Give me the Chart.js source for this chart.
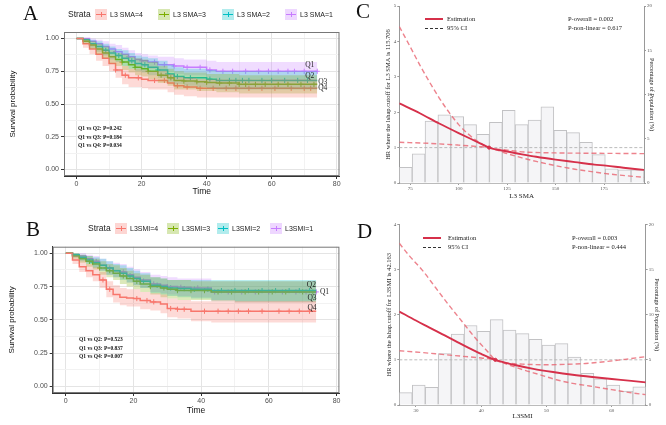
<!DOCTYPE html>
<html>
<head>
<meta charset="utf-8">
<script src="https://cdn.jsdelivr.net/npm/chart.js@4.4.0/dist/chart.umd.min.js"></script>
<style>
  body { margin: 0; width: 666px; height: 425px; position: relative; overflow: hidden; background: #fff;
         font-family: "Liberation Sans", Arial, sans-serif; }
  canvas { position: absolute; }
  .t { position: absolute; white-space: nowrap; line-height: 1; }
  .serif { font-family: "Liberation Serif", "Times New Roman", serif; }
  .letter { font-size: 21px; color: #111; }
  .sw { position: absolute; width: 12px; height: 11px; }
  .sw i { position: absolute; left: 1px; top: 5px; width: 10px; height: 1px; }
  .sw b { position: absolute; left: 5.5px; top: 3px; width: 1px; height: 5px; }
</style>
</head>
<body>
<canvas id="chartA" width="345" height="205" style="left:0;top:0"></canvas>
<canvas id="chartB" width="345" height="215" style="left:0;top:210px"></canvas>
<canvas id="chartC" width="321" height="210" style="left:345px;top:0"></canvas>
<canvas id="chartD" width="321" height="215" style="left:345px;top:210px"></canvas>

<div class="t serif letter" style="left:23px;top:3px">A</div>
<div class="t serif letter" style="left:26px;top:219px">B</div>
<div class="t serif letter" style="left:356px;top:1px">C</div>
<div class="t serif letter" style="left:357px;top:221px">D</div>

<script>
// ---- KM data ----
const kmTime = [0, 2, 4, 6, 8, 10, 12, 14, 16, 18, 20, 22, 25, 28, 30, 33, 37, 40, 43, 50, 60, 74];
const colors = ['#F8766D', '#7CAE00', '#00BFC4', '#C77CFF'];

// panel A, L3 SMA
const strataA = ['L3 SMA=4', 'L3 SMA=3', 'L3 SMA=2', 'L3 SMA=1'];
const survA4 = [1.00,0.96,0.92,0.88,0.85,0.81,0.76,0.72,0.70,0.70,0.69,0.68,0.68,0.66,0.64,0.63,0.62,0.62,0.62,0.62,0.62,0.62];
const lowA4  = [1.00,0.93,0.88,0.83,0.79,0.75,0.70,0.65,0.63,0.63,0.62,0.61,0.61,0.59,0.57,0.56,0.55,0.55,0.55,0.55,0.55,0.55];
const upA4   = [1.00,0.99,0.96,0.93,0.91,0.87,0.83,0.79,0.77,0.77,0.76,0.75,0.75,0.73,0.71,0.70,0.69,0.69,0.69,0.69,0.69,0.69];
const survA3 = [1.00,0.98,0.95,0.92,0.89,0.86,0.84,0.82,0.80,0.78,0.77,0.75,0.72,0.70,0.68,0.675,0.67,0.665,0.66,0.65,0.65,0.65];
const lowA3  = [1.00,0.96,0.92,0.88,0.85,0.81,0.79,0.76,0.74,0.72,0.71,0.69,0.66,0.64,0.61,0.61,0.60,0.60,0.59,0.58,0.58,0.58];
const upA3   = [1.00,1.00,0.98,0.96,0.94,0.91,0.89,0.88,0.86,0.85,0.84,0.82,0.79,0.77,0.75,0.74,0.74,0.73,0.73,0.72,0.72,0.72];
const survA2 = [1.00,0.99,0.96,0.94,0.91,0.89,0.87,0.85,0.83,0.81,0.80,0.78,0.76,0.73,0.71,0.70,0.70,0.69,0.68,0.68,0.68,0.68];
const lowA2  = [1.00,0.97,0.93,0.90,0.87,0.84,0.82,0.79,0.77,0.75,0.74,0.72,0.70,0.67,0.65,0.64,0.63,0.62,0.61,0.61,0.61,0.61];
const upA2   = [1.00,1.00,0.99,0.98,0.96,0.94,0.92,0.91,0.89,0.87,0.86,0.85,0.83,0.80,0.78,0.77,0.77,0.76,0.75,0.75,0.75,0.75];
const survA1 = [1.00,1.00,0.98,0.96,0.94,0.92,0.90,0.88,0.86,0.84,0.83,0.82,0.80,0.80,0.79,0.78,0.78,0.76,0.75,0.75,0.75,0.75];
const lowA1  = [1.00,0.99,0.96,0.93,0.91,0.88,0.86,0.84,0.81,0.79,0.78,0.77,0.75,0.75,0.73,0.72,0.72,0.70,0.69,0.69,0.68,0.68];
const upA1   = [1.00,1.00,1.00,0.99,0.98,0.96,0.95,0.93,0.91,0.89,0.88,0.87,0.86,0.86,0.85,0.84,0.84,0.83,0.82,0.82,0.82,0.82];
const censA4 = [12, 15, 19, 24, 27, 31, 34, 38, 42, 46, 49, 53, 57, 61, 66, 70, 72];
const censA3 = [14, 18, 22, 26, 29, 33, 37, 40, 44, 47, 50, 52, 55, 58, 62, 65, 69, 73];
const censA2 = [9, 13, 17, 21, 25, 28, 31, 35, 41, 44, 47, 49, 51, 53, 57, 60, 64, 68, 71];
const censA1 = [8, 12, 16, 20, 24, 27, 30, 34, 38, 41, 45, 48, 52, 56, 59, 62, 65, 67, 70, 74];
const pTextA = ['Q1 vs Q2: P=0.242', 'Q1 vs Q3: P=0.184', 'Q1 vs Q4: P=0.034'];

// panel B, L3SMI
const strataB = ['L3SMI=4', 'L3SMI=3', 'L3SMI=2', 'L3SMI=1'];
const survB4 = [1.00,0.95,0.90,0.87,0.84,0.80,0.73,0.69,0.67,0.665,0.66,0.645,0.635,0.62,0.585,0.58,0.565,0.565,0.565,0.565,0.565,0.565];
const lowB4  = [1.00,0.92,0.86,0.82,0.79,0.74,0.67,0.63,0.61,0.60,0.60,0.58,0.57,0.55,0.52,0.51,0.49,0.49,0.48,0.48,0.48,0.48];
const upB4   = [1.00,0.98,0.95,0.92,0.90,0.86,0.79,0.76,0.74,0.73,0.73,0.71,0.70,0.69,0.66,0.65,0.64,0.64,0.64,0.64,0.64,0.64];
const survB3 = [1.00,0.98,0.96,0.94,0.92,0.89,0.87,0.85,0.83,0.81,0.79,0.77,0.75,0.74,0.73,0.72,0.72,0.72,0.71,0.71,0.71,0.71];
const lowB3  = [1.00,0.96,0.93,0.90,0.88,0.84,0.82,0.80,0.77,0.75,0.73,0.71,0.69,0.67,0.66,0.65,0.65,0.65,0.64,0.63,0.63,0.63];
const upB3   = [1.00,1.00,0.99,0.98,0.96,0.94,0.92,0.91,0.89,0.87,0.85,0.84,0.82,0.81,0.80,0.80,0.79,0.79,0.79,0.79,0.79,0.79];
const survB2 = [1.00,0.99,0.97,0.95,0.93,0.91,0.89,0.87,0.85,0.83,0.81,0.79,0.76,0.75,0.74,0.735,0.73,0.73,0.72,0.72,0.72,0.72];
const lowB2  = [1.00,0.97,0.94,0.92,0.89,0.87,0.84,0.82,0.80,0.78,0.76,0.74,0.70,0.69,0.68,0.67,0.66,0.66,0.65,0.64,0.64,0.64];
const upB2   = [1.00,1.00,0.99,0.98,0.97,0.96,0.94,0.92,0.91,0.89,0.87,0.85,0.82,0.81,0.80,0.80,0.80,0.80,0.80,0.80,0.80,0.80];
const survB1 = [1.00,0.99,0.98,0.96,0.94,0.91,0.89,0.87,0.86,0.84,0.82,0.80,0.77,0.76,0.75,0.745,0.74,0.74,0.71,0.71,0.71,0.71];
const lowB1  = [1.00,0.97,0.95,0.93,0.90,0.87,0.84,0.82,0.81,0.78,0.76,0.74,0.71,0.70,0.69,0.68,0.67,0.67,0.64,0.63,0.63,0.63];
const upB1   = [1.00,1.00,1.00,0.99,0.98,0.96,0.94,0.93,0.92,0.90,0.88,0.86,0.84,0.83,0.82,0.81,0.81,0.81,0.79,0.79,0.79,0.79];
const censB4 = [11, 13, 21, 24, 26, 31, 33, 35, 41, 45, 48, 51, 54, 58, 63, 66, 69, 72];
const censB3 = [7, 10, 13, 17, 21, 25, 29, 33, 37, 41, 45, 49, 53, 57, 61, 65, 70, 73];
const censB2 = [8, 12, 16, 19, 23, 27, 31, 35, 38, 42, 46, 50, 54, 58, 62, 66, 69, 72];
const censB1 = [9, 13, 17, 22, 26, 30, 34, 39, 44, 48, 52, 56, 60, 64, 68, 71, 74];
const pTextB = ['Q1 vs Q2: P=0.523', 'Q1 vs Q3: P=0.837', 'Q1 vs Q4: P=0.007'];

// ---- RCS data ----
// panel C, L3 SMA
const binMidC = [72.72, 79.36, 86.00, 92.64, 99.28, 105.92, 112.56, 119.20, 125.84, 132.48,
                 139.12, 145.76, 152.40, 159.04, 165.68, 172.32, 178.96, 185.60, 192.24];
const pctC = [1.77, 3.3, 7.0, 7.7, 7.5, 6.6, 5.5, 6.85, 8.2, 6.6, 7.1, 8.6, 5.95, 5.7, 4.6, 3.2, 1.6, 1.5, 1.5];
const estCx = [69.4, 80, 90, 100, 110, 115.7, 125, 132.7, 140, 150, 160, 170, 176, 185, 195.6];
const estCy = [2.25, 1.97, 1.68, 1.41, 1.15, 1.0, 0.89, 0.81, 0.74, 0.66, 0.59, 0.52, 0.49, 0.43, 0.37];
const upCx = [69.4, 75, 80, 85, 90, 95, 100, 105, 110, 115.7, 125, 132.7, 150, 170, 195.6];
const upCy = [4.42, 3.85, 3.33, 2.85, 2.40, 2.00, 1.65, 1.38, 1.17, 1.0, 0.93, 0.88, 0.85, 0.84, 0.83];
const lowCx = [69.4, 85, 100, 110, 115.7, 125, 132.7, 140, 150, 160, 170, 180, 195.6];
const lowCy = [1.15, 1.12, 1.07, 1.03, 1.0, 0.83, 0.71, 0.61, 0.49, 0.39, 0.31, 0.24, 0.16];
const cutC = 115.706;
const xTicksC = [75, 100, 125, 150, 175];

// panel D, L3SMI
const binMidD = [28.44, 30.43, 32.42, 34.40, 36.39, 38.38, 40.37, 42.36, 44.34, 46.33,
                 48.32, 50.31, 52.30, 54.28, 56.27, 58.26, 60.25, 62.24, 64.22];
const pctD = [1.37, 2.2, 1.96, 5.7, 7.86, 8.8, 8.15, 9.45, 8.3, 7.9, 7.27, 6.64, 6.8, 5.3, 3.5, 2.9, 2.2, 1.55, 2.0];
const estDx = [27.45, 30, 32, 34, 36, 38, 40, 42.16, 45, 48, 51, 54, 57, 60, 63, 65.2];
const estDy = [2.07, 1.87, 1.72, 1.57, 1.42, 1.27, 1.13, 1.0, 0.89, 0.80, 0.73, 0.67, 0.62, 0.575, 0.535, 0.50];
const upDx = [27.45, 29, 31, 33, 35, 37, 39, 41, 42.16, 44, 47, 50, 53, 56, 59, 62, 65.2];
const upDy = [3.58, 3.30, 2.98, 2.60, 2.22, 1.86, 1.50, 1.18, 1.0, 0.93, 0.90, 0.89, 0.90, 0.92, 0.96, 1.01, 1.07];
const lowDx = [27.45, 31, 34, 37, 40, 42.16, 44, 46.4, 49, 51.5, 54, 56.6, 60, 63, 65.2];
const lowDy = [1.20, 1.16, 1.12, 1.08, 1.04, 1.0, 0.90, 0.78, 0.67, 0.56, 0.48, 0.42, 0.34, 0.27, 0.23];
const cutD = 42.163;
const xTicksD = [30, 40, 50, 60];

// ---- helpers ----
function rgba(hex, a) {
  const n = parseInt(hex.slice(1), 16);
  return `rgba(${n >> 16},${(n >> 8) & 255},${n & 255},${a})`;
}
function stepAt(t, surv) {
  let v = surv[0];
  for (let i = 0; i < kmTime.length; i++) if (kmTime[i] <= t) v = surv[i];
  return v;
}
function addText(txt, left, top, css) {
  const d = document.createElement('div');
  d.className = 't';
  d.textContent = txt;
  d.style.left = left + 'px';
  d.style.top = top + 'px';
  Object.assign(d.style, css || {});
  document.body.appendChild(d);
}

// legend of the KM panels
function kmLegend(names, lay) {
  addText('Strata', lay.strata, lay.y - 4.5, { fontSize: '8.5px', color: '#222' });
  names.forEach((nm, i) => {
    const sw = document.createElement('div');
    sw.className = 'sw';
    sw.style.left = lay.sw[i] + 'px';
    sw.style.top = (lay.y - 5.5) + 'px';
    sw.style.background = rgba(colors[i], 0.3);
    sw.innerHTML = `<i style="background:${colors[i]}"></i><b style="background:${colors[i]}"></b>`;
    document.body.appendChild(sw);
    addText(nm, lay.sw[i] + 15, lay.y - 3.8, { fontSize: '7px', color: '#222' });
  });
}

const boxPlugin = {
  id: 'box',
  afterDraw(chart) {
    const a = chart.chartArea, ctx = chart.ctx;
    ctx.save();
    ctx.strokeStyle = '#777';
    ctx.lineWidth = 1;
    ctx.strokeRect(a.left + 0.5, a.top + 0.5, a.right - a.left - 1, a.bottom - a.top - 1);
    ctx.restore();
  }
};

const qPlugin = {
  id: 'qlab',
  afterDatasetsDraw(chart, args, opts) {
    const ctx = chart.ctx, sx = chart.scales.x, sy = chart.scales.y;
    ctx.save();
    ctx.font = '7.5px "Liberation Serif", serif';
    ctx.fillStyle = '#222';
    ctx.textBaseline = 'middle';
    (opts.labels || []).forEach(q => ctx.fillText(q.t, sx.getPixelForValue(q.x), sy.getPixelForValue(q.y)));
    ctx.restore();
  }
};

function kmChart(id, curves, lay, qLabels) {
  const datasets = [];
  curves.forEach((c, i) => {
    datasets.push({ data: kmTime.map((t, j) => ({ x: t, y: c.lo[j] })), stepped: true,
      borderColor: 'transparent', borderWidth: 0, pointRadius: 0, fill: false });
    datasets.push({ data: kmTime.map((t, j) => ({ x: t, y: c.hi[j] })), stepped: true,
      borderColor: 'transparent', borderWidth: 0, pointRadius: 0, fill: '-1',
      backgroundColor: rgba(colors[i], 0.27) });
  });
  curves.forEach((c, i) => {
    datasets.push({ data: kmTime.map((t, j) => ({ x: t, y: c.s[j] })), stepped: true,
      borderColor: colors[i], borderWidth: 1.5, pointRadius: 0, fill: false });
  });
  curves.forEach((c, i) => {
    datasets.push({ data: c.cens.map(t => ({ x: t, y: stepAt(t, c.s) })), showLine: false,
      pointStyle: 'cross', pointRadius: 2.6, borderColor: colors[i], borderWidth: 1, fill: false });
  });

  const major = v => Math.abs(v % 20) < 1e-6;
  const majorY = v => Math.abs((v * 4) % 1) < 1e-6;
  return new Chart(document.getElementById(id), {
    type: 'line',
    data: { datasets },
    options: {
      responsive: false, animation: false, events: [],
      layout: { padding: { left: 0, top: lay.top, right: lay.right, bottom: 0 } },
      plugins: { legend: { display: false }, tooltip: { enabled: false }, qlab: { labels: qLabels } },
      scales: {
        x: {
          type: 'linear', min: -3.85, max: 80.85,
          afterBuildTicks: s => { s.ticks = [0, 10, 20, 30, 40, 50, 60, 70, 80].map(v => ({ value: v })); },
          afterFit: s => { s.height = lay.xH; },
          ticks: { autoSkip: false, maxRotation: 0, padding: 1, color: '#4d4d4d',
                   font: { size: 7, family: '"Liberation Sans", Arial' },
                   callback: v => major(v) ? v : '' },
          grid: { color: c => (c.tick && major(c.tick.value)) ? '#e4e4e4' : '#f2f2f2',
                  tickColor: c => (c.tick && major(c.tick.value)) ? '#333' : 'transparent', tickLength: 3 },
          border: { color: '#333' },
          title: { display: true, text: 'Time', color: '#111', padding: { top: 0, bottom: lay.xPad },
                   font: { size: 8.5, family: '"Liberation Sans", Arial' } }
        },
        y: {
          min: -0.05, max: 1.05,
          afterBuildTicks: s => { s.ticks = [0, 0.125, 0.25, 0.375, 0.5, 0.625, 0.75, 0.875, 1].map(v => ({ value: v })); },
          afterFit: s => { s.width = lay.yW; },
          ticks: { autoSkip: false, padding: 2, color: '#4d4d4d',
                   font: { size: 7, family: '"Liberation Sans", Arial' },
                   callback: v => majorY(v) ? v.toFixed(2) : '' },
          grid: { color: c => (c.tick && majorY(c.tick.value)) ? '#e4e4e4' : '#f2f2f2',
                  tickColor: c => (c.tick && majorY(c.tick.value)) ? '#333' : 'transparent', tickLength: 3 },
          border: { color: '#333' },
          title: { display: true, text: 'Survival probability', color: '#111', padding: { top: lay.yPad, bottom: 0 },
                   font: { size: 8, family: '"Liberation Sans", Arial' } }
        }
      }
    },
    plugins: [boxPlugin, qPlugin]
  });
}

function rcsChart(id, d, lay) {
  const pts = (xs, ys) => xs.map((x, i) => ({ x, y: ys[i] }));
  const dashRed = 'rgba(232,100,112,0.8)';
  const datasets = [
    { type: 'bar', data: pts(d.bins, d.pct), yAxisID: 'y2', backgroundColor: '#f5f5f7',
      borderColor: '#c2c2c4', borderWidth: 1, barPercentage: 1, categoryPercentage: 1, order: 9 },
    { type: 'line', data: [{ x: d.xmin, y: 1 }, { x: d.xmax, y: 1 }], borderColor: '#b4b4b4',
      borderWidth: 0.9, borderDash: [3, 2], pointRadius: 0, order: 3 },
    { type: 'line', data: pts(d.upx, d.upy), borderColor: dashRed, borderWidth: 1.4, borderDash: [5, 3],
      cubicInterpolationMode: 'monotone', pointRadius: 0, order: 2 },
    { type: 'line', data: pts(d.lowx, d.lowy), borderColor: dashRed, borderWidth: 1.4, borderDash: [5, 3],
      cubicInterpolationMode: 'monotone', pointRadius: 0, order: 2 },
    { type: 'line', data: pts(d.estx, d.esty), borderColor: '#d6304a', borderWidth: 1.9,
      cubicInterpolationMode: 'monotone', pointRadius: 0, order: 1 },
    { type: 'line', data: [{ x: d.cut, y: 1 }], pointRadius: 1.6, backgroundColor: '#d6304a',
      borderColor: '#d6304a', showLine: false, order: 0 }
  ];
  const tickFont = { size: 5, family: '"Liberation Serif", serif' };
  return new Chart(document.getElementById(id), {
    type: 'line',
    data: { datasets },
    options: {
      responsive: false, animation: false, events: [],
      layout: { padding: { left: 0, top: lay.top, right: 0, bottom: 0 } },
      plugins: { legend: { display: false }, tooltip: { enabled: false } },
      scales: {
        x: {
          type: 'linear', min: d.xmin, max: d.xmax, offset: false,
          afterBuildTicks: s => { s.ticks = d.xTicks.map(v => ({ value: v })); },
          afterFit: s => { s.height = lay.xH; },
          ticks: { autoSkip: false, maxRotation: 0, padding: 1, color: '#555', font: tickFont },
          grid: { display: true, drawOnChartArea: false, offset: false, tickLength: 2, tickColor: '#999' },
          border: { color: '#bbb' },
          title: { display: true, text: d.xTitle, color: '#222', padding: { top: 0, bottom: lay.xPad },
                   font: { size: 7, family: '"Liberation Serif", serif' } }
        },
        y: {
          min: 0, max: d.ymax,
          ticks: { stepSize: 1, padding: 1, color: '#555', font: tickFont },
          afterFit: s => { s.width = lay.yW; },
          grid: { drawOnChartArea: false, tickLength: 2, tickColor: '#999' },
          border: { color: '#999' },
          title: { display: true, text: d.yTitle, color: '#222', padding: { top: lay.yPad, bottom: 0 },
                   font: { size: 6.5, family: '"Liberation Serif", serif' } }
        },
        y2: {
          position: 'right', min: 0, max: 20,
          ticks: { stepSize: 5, padding: 1, color: '#555', font: tickFont },
          afterFit: s => { s.width = lay.y2W; },
          grid: { drawOnChartArea: false, tickLength: 2, tickColor: '#999' },
          border: { color: '#999' },
          title: { display: true, text: 'Percentage of Population (%)', color: '#222',
                   padding: { top: lay.y2Pad, bottom: 0 },
                   font: { size: 6.2, family: '"Liberation Serif", serif' } }
        }
      }
    }
  });
}

function rcsLegend(lay, pTexts) {
  const lineA = document.createElement('div');
  lineA.style.cssText = `position:absolute;left:${lay.lx}px;top:${lay.y1 - 1}px;width:18px;height:1.5px;background:#d6304a`;
  document.body.appendChild(lineA);
  const lineB = document.createElement('div');
  lineB.style.cssText = `position:absolute;left:${lay.lx}px;top:${lay.y2 - 0.5}px;width:18px;height:0;border-top:1px dashed #333`;
  document.body.appendChild(lineB);
  const sc = { fontSize: '6.5px', color: '#222', fontFamily: '"Liberation Serif", serif' };
  addText('Estimation', lay.tx, lay.y1 - 3.3, sc);
  addText('95% CI', lay.tx, lay.y2 - 3.3, sc);
  addText(pTexts[0], lay.px, lay.y1 - 3.3, sc);
  addText(pTexts[1], lay.px, lay.y2 - 3.3, sc);
}

// ---- build ----
kmChart('chartA', [
  { s: survA4, lo: lowA4, hi: upA4, cens: censA4 },
  { s: survA3, lo: lowA3, hi: upA3, cens: censA3 },
  { s: survA2, lo: lowA2, hi: upA2, cens: censA2 },
  { s: survA1, lo: lowA1, hi: upA1, cens: censA1 }
], { top: 32, right: 5.5, xH: 29, yW: 64, xPad: 8.5, yPad: 8 },
[{ t: 'Q1', x: 70.3, y: 0.80 }, { t: 'Q2', x: 70.3, y: 0.71 }, { t: 'Q3', x: 74.3, y: 0.665 }, { t: 'Q4', x: 74.3, y: 0.62 }]);

kmChart('chartB', [
  { s: survB4, lo: lowB4, hi: upB4, cens: censB4 },
  { s: survB3, lo: lowB3, hi: upB3, cens: censB3 },
  { s: survB2, lo: lowB2, hi: upB2, cens: censB2 },
  { s: survB1, lo: lowB1, hi: upB1, cens: censB1 }
], { top: 36.7, right: 5.6, xH: 32, yW: 52.7, xPad: 9.5, yPad: 7 },
[{ t: 'Q2', x: 71.2, y: 0.764 }, { t: 'Q1', x: 75.1, y: 0.707 }, { t: 'Q3', x: 71.4, y: 0.665 }, { t: 'Q4', x: 71.4, y: 0.59 }]);

kmLegend(strataA, { strata: 68, y: 14.5, sw: [95, 158, 222, 285] });
kmLegend(strataB, { strata: 88, y: 228.5, sw: [115, 167, 217, 270] });

const pCss = { fontSize: '5.5px', fontWeight: 'bold', color: '#111', fontFamily: '"Liberation Serif", serif' };
pTextA.forEach((s, i) => addText(s, 78, [128.3, 137.3, 146][i] - 2.8, pCss));
pTextB.forEach((s, i) => addText(s, 79, [340, 348.3, 356.7][i] - 2.8, pCss));

rcsChart('chartC', {
  bins: binMidC, pct: pctC, estx: estCx, esty: estCy, upx: upCx, upy: upCy, lowx: lowCx, lowy: lowCy,
  cut: cutC, xmin: 69.4, xmax: 195.6, ymax: 5, xTicks: xTicksC,
  xTitle: 'L3 SMA', yTitle: 'HR where the lshap.cutoff for L3 SMA is 115.706'
}, { top: 6, xH: 27, yW: 54.3, y2W: 22, xPad: 9.8, yPad: 39, y2Pad: 10.4 });

rcsChart('chartD', {
  bins: binMidD, pct: pctD, estx: estDx, esty: estDy, upx: upDx, upy: upDy, lowx: lowDx, lowy: lowDy,
  cut: cutD, xmin: 27.45, xmax: 65.2, ymax: 4, xTicks: xTicksD,
  xTitle: 'L3SMI', yTitle: 'HR where the lshap.cutoff for L3SMI is 42.163'
}, { top: 14.3, xH: 20, yW: 54.3, y2W: 20.3, xPad: 5, yPad: 40, y2Pad: 5.4 });

rcsLegend({ lx: 425, tx: 447, px: 568, y1: 19, y2: 28 }, ['P-overall = 0.002', 'P-non-linear = 0.617']);
rcsLegend({ lx: 423, tx: 448, px: 572, y1: 238, y2: 247 }, ['P-overall = 0.003', 'P-non-linear = 0.444']);
</script>
</body>
</html>
